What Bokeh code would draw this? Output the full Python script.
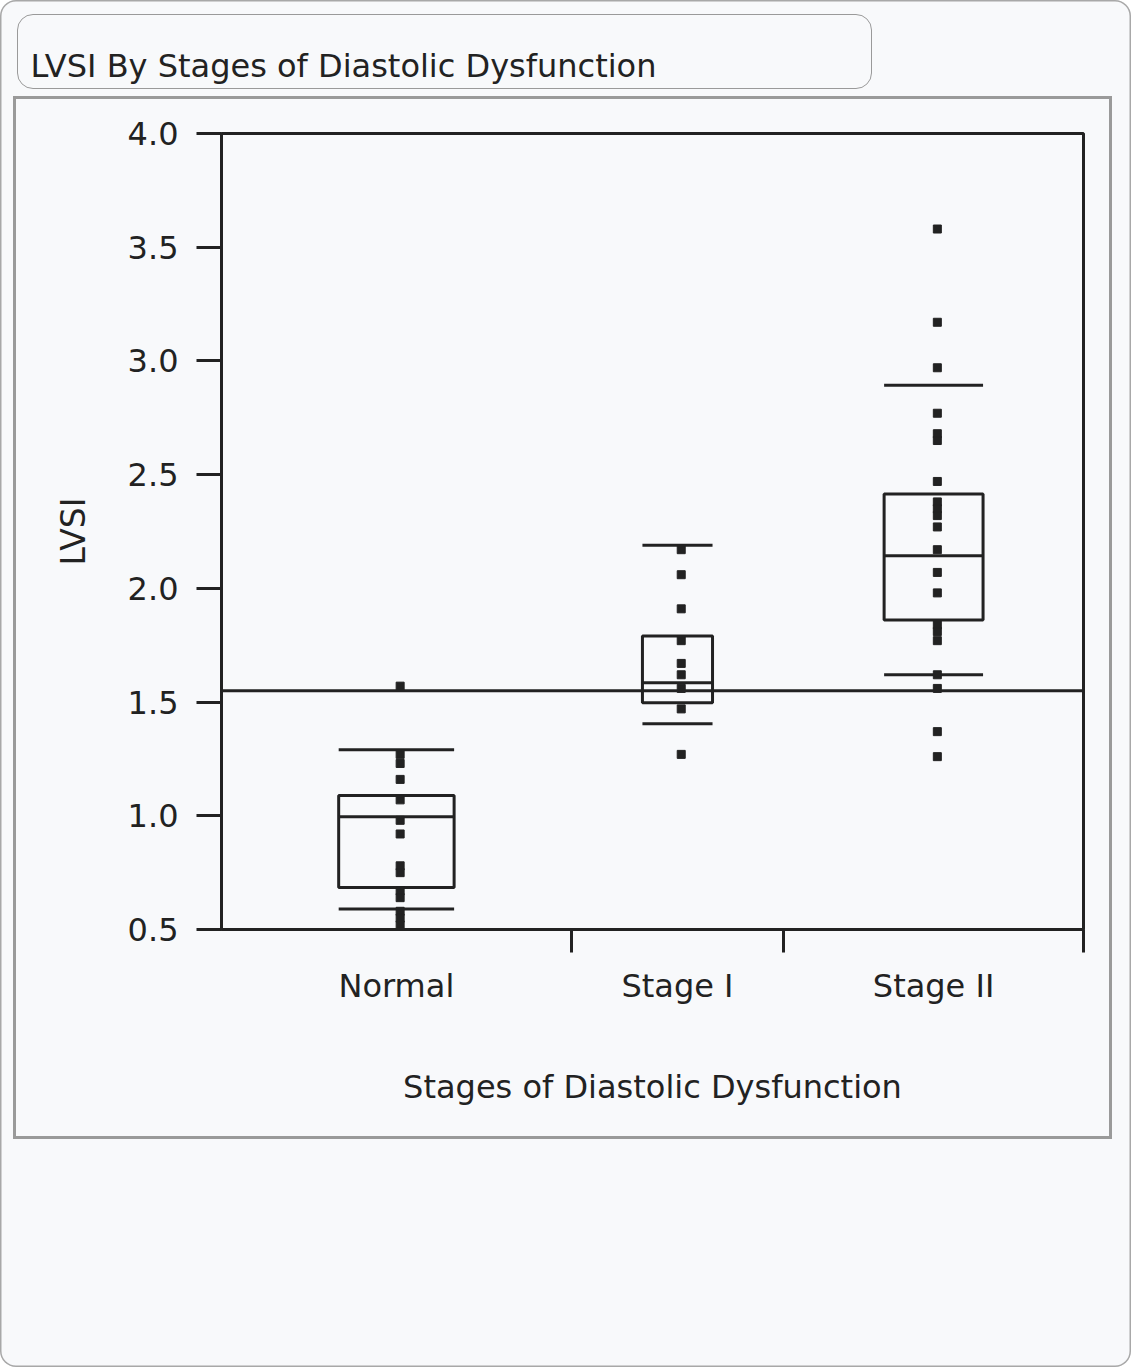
import numpy as np
from bokeh.plotting import figure
from bokeh.models import (Range1d, FixedTicker, Span, ColumnDataSource,
                          PrintfTickFormatter, InlineStyleSheet)
from bokeh.embed import file_html
from bokeh.resources import INLINE

# ---------------- data ----------------
categories = ["Normal", "Stage I", "Stage II"]
group_n = [28, 17, 24]            # relative group widths (JMP scales x by group size)
lower_whisker = [0.59, 1.405, 1.62]
q1 = [0.685, 1.497, 1.861]
median = [0.996, 1.585, 2.143]
q3 = [1.089, 1.79, 2.415]
upper_whisker = [1.29, 2.19, 2.893]
grand_mean = 1.55

normal_values = [1.57, 1.27, 1.23, 1.16, 1.07, 0.98, 0.92, 0.78, 0.75, 0.67, 0.64, 0.58, 0.55, 0.52]
stage1_values = [2.17, 2.06, 1.91, 1.77, 1.67, 1.62, 1.56, 1.47, 1.27]
stage2_values = [3.58, 3.17, 2.97, 2.77, 2.68, 2.65, 2.47, 2.38, 2.35, 2.32, 2.27, 2.17,
                 2.07, 1.98, 1.84, 1.81, 1.77, 1.62, 1.56, 1.37, 1.26]
y_ticks = [0.5, 1.0, 1.5, 2.0, 2.5, 3.0, 3.5, 4.0]

title_text = "LVSI By Stages of Diastolic Dysfunction"
x_title = "Stages of Diastolic Dysfunction"
y_title = "LVSI"

# ---------------- derived positions ----------------
n = np.array(group_n, dtype=float)
edges = np.cumsum(n)
centers = edges - n / 2.0
half_w = 0.165 * n

FONT = "DejaVu Sans"
INK = "#222222"
BG = "#f8f9fb"
LW = 3

# decorative page frames (rounded outer card, title box, grey panel) drawn with CSS
css = f"""
:host {{
  position: relative;
  background-color: {BG};
  border-radius: 16px;
  box-shadow: inset 0 0 0 1.5px #a8a8a8;
}}
:host::before {{
  content: "";
  position: absolute;
  left: 17px; top: 14px; width: 855px; height: 75px;
  border: 1.5px solid #9a9a9a; border-radius: 16px;
  box-sizing: border-box; pointer-events: none;
}}
:host::after {{
  content: "";
  position: absolute;
  left: 13px; top: 96px; width: 1099px; height: 1043px;
  border: 3px solid #9a9a9a;
  box-sizing: border-box; pointer-events: none; z-index: 5;
}}
"""

p = figure(width=1131, height=1367, output_backend="svg", toolbar_location=None,
           x_range=Range1d(0, edges[-1]), y_range=Range1d(0.5, 4.0),
           min_border_left=221, min_border_right=48, min_border_top=132, min_border_bottom=438,
           background_fill_color=BG, border_fill_color=None,
           title=title_text, x_axis_label=x_title, y_axis_label=y_title)
p.stylesheets = [InlineStyleSheet(css=css)]
p.outline_line_color = INK
p.outline_line_width = LW
p.xgrid.visible = False
p.ygrid.visible = False

# title
p.title.align = "left"
p.title.vertical_align = "top"
p.title.offset = -191
p.title.standoff = 93
p.title.text_font = FONT
p.title.text_font_size = "32px"
p.title.text_font_style = "normal"
p.title.text_color = INK

# y axis
ya = p.yaxis[0]
ya.ticker = FixedTicker(ticks=y_ticks, minor_ticks=[])
ya.formatter = PrintfTickFormatter(format="%.1f")
ya.axis_line_color = INK
ya.axis_line_width = LW
ya.major_tick_line_color = INK
ya.major_tick_line_width = LW
ya.major_tick_out = 25
ya.major_tick_in = 0
ya.minor_tick_line_color = None
ya.major_label_text_font = FONT
ya.major_label_text_font_size = "32px"
ya.major_label_text_color = INK
ya.major_label_standoff = 18
ya.axis_label_text_font = FONT
ya.axis_label_text_font_size = "33px"
ya.axis_label_text_font_style = "normal"
ya.axis_label_text_color = INK
ya.axis_label_standoff = 32

# x axis: labels at group centres, minor ticks at group boundaries
xa = p.xaxis[0]
xa.ticker = FixedTicker(ticks=list(centers), minor_ticks=list(edges))
xa.major_label_overrides = {float(c): lab for c, lab in zip(centers, categories)}
xa.axis_line_color = INK
xa.axis_line_width = LW
xa.major_tick_line_color = None
xa.major_tick_out = 0
xa.major_tick_in = 0
xa.minor_tick_line_color = INK
xa.minor_tick_line_width = LW
xa.minor_tick_out = 23
xa.minor_tick_in = 0
xa.major_label_text_font = FONT
xa.major_label_text_font_size = "32px"
xa.major_label_text_color = INK
xa.major_label_standoff = 14
xa.axis_label_text_font = FONT
xa.axis_label_text_font_size = "32px"
xa.axis_label_text_font_style = "normal"
xa.axis_label_text_color = INK
xa.axis_label_standoff = 60

# grand mean reference line
p.add_layout(Span(location=grand_mean, dimension="width", line_color=INK, line_width=LW))

# boxes
box_src = ColumnDataSource(dict(left=centers - half_w, right=centers + half_w,
                                q1=q1, q3=q3, med=median,
                                lo=lower_whisker, hi=upper_whisker))
p.quad(left="left", right="right", bottom="q1", top="q3", source=box_src,
       fill_color=None, line_color=INK, line_width=LW)
p.segment(x0="left", x1="right", y0="med", y1="med", source=box_src, line_color=INK, line_width=LW)
p.segment(x0="left", x1="right", y0="lo", y1="lo", source=box_src, line_color=INK, line_width=LW)
p.segment(x0="left", x1="right", y0="hi", y1="hi", source=box_src, line_color=INK, line_width=LW)

# points
xs, ys = [], []
for c, vals in zip(centers, [normal_values, stage1_values, stage2_values]):
    xs += [float(c) + 0.3] * len(vals)
    ys += vals
p.scatter(x=xs, y=ys, marker="square", size=8, fill_color=INK, line_color=INK)

open("out.html", "w").write(file_html(p, INLINE))
